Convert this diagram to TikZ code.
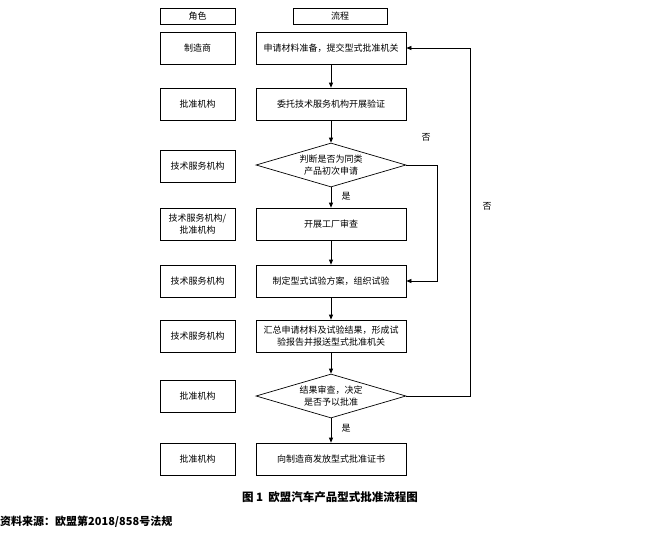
\documentclass[tikz,border=0pt]{standalone}
\usepackage{fontspec}
\setmainfont{Noto Sans CJK SC}
\usetikzlibrary{shapes.geometric,arrows.meta}
\begin{document}
\begin{tikzpicture}[x=1pt,y=-1pt,
 box/.style={draw,line width=0.7pt,minimum height=32pt,inner sep=1pt,font=\fontsize{9}{11.5}\selectfont,align=center},
 role/.style={box,minimum width=75pt},
 proc/.style={box,minimum width=150pt},
 hdr/.style={draw,line width=0.7pt,minimum height=16pt,inner sep=1pt,font=\fontsize{9}{11}\selectfont},
 dia/.style={draw,line width=0.7pt,diamond,aspect=3.4,minimum width=150pt,minimum height=44pt,inner sep=0pt,font=\fontsize{9}{11.5}\selectfont,align=center},
 arr/.style={-{Triangle[length=5pt,width=4pt]},line width=0.7pt},
 lbl/.style={font=\fontsize{9}{11}\selectfont}]
\useasboundingbox (0,0) rectangle (659,539);
\node[hdr,minimum width=75pt] (h1) at (197.5,16) {角色};
\node[hdr,minimum width=94pt] (h2) at (340,16) {流程};
\node[role] (r1) at (197.5,48) {制造商};
\node[role] (r2) at (197.5,104) {批准机构};
\node[role] (r3) at (197.5,166) {技术服务机构};
\node[role] (r4) at (197.5,224) {技术服务机构/\\批准机构};
\node[role] (r5) at (197.5,281) {技术服务机构};
\node[role] (r6) at (197.5,336) {技术服务机构};
\node[role] (r7) at (197.5,396) {批准机构};
\node[role] (r8) at (197.5,459) {批准机构};
\node[proc] (p1) at (331,48) {申请材料准备，提交型式批准机关};
\node[proc] (p2) at (331,104) {委托技术服务机构开展验证};
\node[dia] (d1) at (331,165) {判断是否为同类\\产品初次申请};
\node[proc] (p4) at (331,224) {开展工厂审查};
\node[proc] (p5) at (331,281) {制定型式试验方案，组织试验};
\node[proc] (p6) at (331,336) {汇总申请材料及试验结果，形成试\\验报告并报送型式批准机关};
\node[dia] (d2) at (331,396) {结果审查，决定\\是否予以批准};
\node[proc] (p7) at (331,459) {向制造商发放型式批准证书};
\draw[arr] (p1) -- (p2);
\draw[arr] (p2) -- (d1);
\draw[arr] (d1) -- (p4);
\draw[arr] (p4) -- (p5);
\draw[arr] (p5) -- (p6);
\draw[arr] (p6) -- (d2);
\draw[arr] (d2) -- (p7);
\coordinate (c1) at (437,165);
\coordinate (c2) at (437,281);
\draw[arr] (d1.east) -- (c1) -- (c2) -- (p5.east);
\coordinate (c3) at (470,396);
\coordinate (c4) at (470,48);
\draw[arr] (d2.east) -- (c3) -- (c4) -- (p1.east);
\node[lbl] (n1) at (426,137) {否};
\node[lbl] (n2) at (487,206) {否};
\node[lbl] (y1) at (346,196) {是};
\node[lbl] (y2) at (346,428) {是};
\node[font=\fontsize{11.5}{13}\selectfont\bfseries] (cap) at (330,497) {图 1\ \ 欧盟汽车产品型式批准流程图};
\node[font=\fontsize{11}{13}\selectfont\bfseries,anchor=west,inner sep=0pt] (src) at (0,522) {资料来源：欧盟第2018/858号法规};
\end{tikzpicture}
\end{document}
